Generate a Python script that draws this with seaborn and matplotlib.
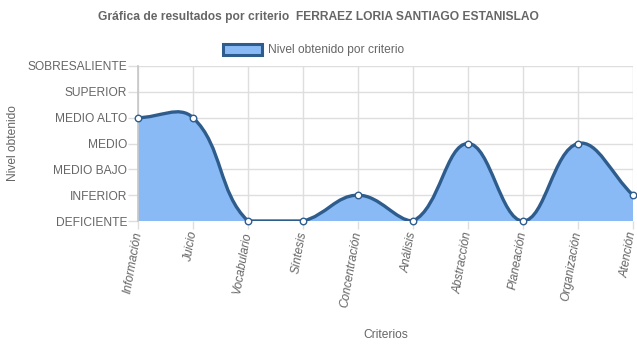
import matplotlib
matplotlib.use("Agg")
import matplotlib.pyplot as plt
from matplotlib.path import Path
from matplotlib.patches import PathPatch, Rectangle
import seaborn as sns
import pandas as pd
import numpy as np

criterios = ["Información", "Juicio", "Vocabulario", "Síntesis", "Concentración",
             "Análisis", "Abstracción", "Planeación", "Organización", "Atención"]
niveles = [4, 4, 0, 0, 1, 0, 3, 0, 3, 1]
etiquetas_nivel = ["DEFICIENTE", "INFERIOR", "MEDIO BAJO", "MEDIO", "MEDIO ALTO",
                   "SUPERIOR", "SOBRESALIENTE"]

sns.set_theme(style="white")
plt.rcParams['font.family'] = ['Liberation Sans', 'DejaVu Sans']

FS = 8.64
W, H = 637, 348
fig = plt.figure(figsize=(W / 100, H / 100), dpi=100)
L, R, T, B = 138, 633, 66, 221
ax = fig.add_axes([L / W, 1 - B / H, (R - L) / W, (B - T) / H])

n = len(criterios)
xs = np.arange(n, dtype=float)
ys = np.array(niveles, dtype=float)
ymax = len(etiquetas_nivel) - 1
sx = (R - L) / (n - 1)
sy = (B - T) / ymax

# Chart.js-style bezier control points (tension 0.4), computed in pixel space
tension = 0.4
cps = []
for i in range(n):
    p = np.array([xs[i] * sx, ys[i] * sy])
    prv = np.array([xs[max(i - 1, 0)] * sx, ys[max(i - 1, 0)] * sy])
    nxt = np.array([xs[min(i + 1, n - 1)] * sx, ys[min(i + 1, n - 1)] * sy])
    d01 = np.hypot(*(p - prv))
    d12 = np.hypot(*(nxt - p))
    tot = d01 + d12
    s01 = d01 / tot if tot else 0
    s12 = d12 / tot if tot else 0
    fa, fb = tension * s01, tension * s12
    c_prev = p - fa * (nxt - prv)
    c_next = p + fb * (nxt - prv)
    c_prev = np.array([np.clip(c_prev[0] / sx, 0, n - 1), np.clip(c_prev[1] / sy, 0, ymax)])
    c_next = np.array([np.clip(c_next[0] / sx, 0, n - 1), np.clip(c_next[1] / sy, 0, ymax)])
    cps.append((c_prev, c_next))

verts = [(xs[0], ys[0])]
codes = [Path.MOVETO]
for i in range(n - 1):
    verts += [tuple(cps[i][1]), tuple(cps[i + 1][0]), (xs[i + 1], ys[i + 1])]
    codes += [Path.CURVE4] * 3

fill_verts = verts + [(xs[-1], 0), (xs[0], 0), (xs[0], ys[0])]
fill_codes = codes + [Path.LINETO, Path.LINETO, Path.CLOSEPOLY]

ax.add_patch(PathPatch(Path(fill_verts, fill_codes), facecolor="#8abaf5",
                       edgecolor="none", alpha=1.0, zorder=1))
ax.add_patch(PathPatch(Path(verts, codes), facecolor="none", edgecolor="#2e5d8d",
                       linewidth=2.4, zorder=3, capstyle="round", joinstyle="round"))

df = pd.DataFrame({"criterio": xs, "nivel": ys})
sns.scatterplot(data=df, x="criterio", y="nivel", ax=ax, s=22, color="white",
                edgecolor="#2e5d8d", linewidth=1.0, zorder=4, legend=False, clip_on=False)

ax.set_xlim(0, n - 1)
ax.set_ylim(0, ymax)
ax.set_xticks(xs)
ax.set_xticklabels(criterios, rotation=80, ha="right", va="center",
                   rotation_mode="anchor", fontstyle="italic")
ax.set_yticks(range(len(etiquetas_nivel)))
ax.set_yticklabels(etiquetas_nivel)
ax.grid(True, color="#dedede", linewidth=1, zorder=0)
ax.set_axisbelow(True)
for s in ax.spines.values():
    s.set_visible(False)
ax.spines["left"].set_visible(True)
ax.spines["left"].set_color("#c8c8c8")
ax.tick_params(axis="y", length=7.2, width=1, color="#dedede", labelsize=FS,
               labelcolor="#666666", pad=0.5, left=True)
ax.tick_params(axis="x", length=5.8, width=1, color="#dedede", labelsize=FS,
               labelcolor="#666666", pad=2, bottom=True)

ax.set_xlabel("Criterios", fontsize=FS, color="#666666")
ax.set_ylabel("Nivel obtenido", fontsize=FS, color="#666666")
ax.xaxis.set_label_coords(0.5, -(329 - B) / (B - T))
ax.yaxis.set_label_coords(-(L - 19) / (R - L), 0.5)

fig.text(318 / W, 1 - 17 / H, "Gráfica de resultados por criterio  FERRAEZ LORIA SANTIAGO ESTANISLAO",
         ha="center", va="center", fontsize=FS, fontweight="bold", color="#666666")

fig.patches.append(Rectangle((223 / W, 1 - 55 / H), 39 / W, 11 / H, transform=fig.transFigure,
                             facecolor="#8abaf5", edgecolor="#2e5d8d", linewidth=2.2))
fig.text(268 / W, 1 - 49.5 / H, "Nivel obtenido por criterio", ha="left", va="center",
         fontsize=FS, color="#666666")

fig.savefig("out.png", dpi=100)
